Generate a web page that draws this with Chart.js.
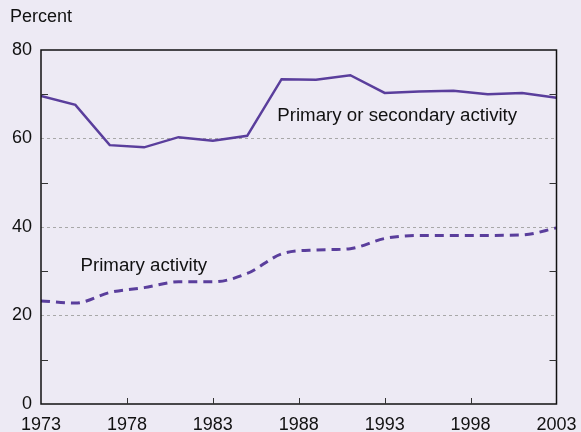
<!DOCTYPE html>
<html>
<head>
<meta charset="utf-8">
<script src="https://cdn.jsdelivr.net/npm/chart.js@4.4.1/dist/chart.umd.min.js"></script>
<style>
  html, body { margin: 0; padding: 0; background: #edeaf4; }
  #wrap { width: 581px; height: 432px; }
</style>
</head>
<body>
<div id="wrap"><canvas id="chart" width="581" height="432"></canvas></div>
<script>
// data
let years = [1973, 1975, 1977, 1979, 1981, 1983, 1985, 1987, 1989, 1991, 1993, 1995, 1997, 1999, 2001, 2003];
let primaryOrSecondary = [69.6, 67.6, 58.5, 58.0, 60.3, 59.5, 60.6, 73.4, 73.3, 74.3, 70.3, 70.6, 70.8, 70.0, 70.3, 69.2];
let primaryOnly = [23.3, 22.8, 25.2, 26.3, 27.6, 27.6, 29.5, 33.9, 34.8, 35.1, 37.4, 38.1, 38.1, 38.1, 38.2, 39.8];

let yearTicks = [1973, 1978, 1983, 1988, 1993, 1998, 2003];
let percentLabels = [0, 20, 40, 60, 80];
let minorTicks = [10, 30, 50, 70];
let gridValues = [20, 40, 60];

let purple = "#5a3e9c";
let font = "Liberation Sans, Arial, Helvetica, sans-serif";

function toPoints(vals) {
  let pts = [];
  for (let i = 0; i < years.length; i++) {
    pts.push({ x: years[i], y: vals[i] });
  }
  return pts;
}

// frame, inward ticks and the text labels
let framePlugin = {
  id: "frame",
  afterDraw: function (chart) {
    let ctx = chart.ctx;
    let a = chart.chartArea;
    let xs = chart.scales.x;
    let ys = chart.scales.y;

    ctx.save();
    ctx.strokeStyle = "#111";
    ctx.lineWidth = 1.5;
    ctx.strokeRect(a.left, a.top, a.right - a.left, a.bottom - a.top);

    ctx.lineWidth = 1;
    ctx.strokeStyle = "#333";
    ctx.beginPath();
    for (let i = 1; i < yearTicks.length - 1; i++) {
      let px = Math.round(xs.getPixelForValue(yearTicks[i])) + 0.5;
      ctx.moveTo(px, a.bottom);
      ctx.lineTo(px, a.bottom - 6);
    }
    for (let i = 0; i < minorTicks.length; i++) {
      let py = Math.round(ys.getPixelForValue(minorTicks[i])) + 0.5;
      ctx.moveTo(a.left, py);
      ctx.lineTo(a.left + 7, py);
      ctx.moveTo(a.right, py);
      ctx.lineTo(a.right - 7, py);
    }
    ctx.stroke();

    ctx.fillStyle = "#111";
    ctx.font = "18px " + font;
    ctx.textBaseline = "middle";
    ctx.textAlign = "left";
    ctx.fillText("Percent", 10, 17);

    ctx.font = "18.7px " + font;
    ctx.fillText("Primary or secondary activity", xs.getPixelForValue(1986.75), ys.getPixelForValue(65.2));
    ctx.fillText("Primary activity", xs.getPixelForValue(1975.3), ys.getPixelForValue(31.2));
    ctx.restore();
  }
};

new Chart(document.getElementById("chart"), {
  type: "line",
  data: {
    datasets: [
      {
        label: "Primary or secondary activity",
        data: toPoints(primaryOrSecondary),
        borderColor: purple,
        borderWidth: 2.5,
        pointRadius: 0,
        tension: 0
      },
      {
        label: "Primary activity",
        data: toPoints(primaryOnly),
        borderColor: purple,
        borderWidth: 3,
        borderDash: [9, 6],
        pointRadius: 0,
        cubicInterpolationMode: "monotone"
      }
    ]
  },
  options: {
    responsive: false,
    animation: false,
    layout: { padding: { top: 50, right: 24.5, left: 0, bottom: 0 } },
    plugins: {
      legend: { display: false },
      tooltip: { enabled: false }
    },
    scales: {
      x: {
        type: "linear",
        min: 1973,
        max: 2003,
        afterBuildTicks: function (s) {
          s.ticks = yearTicks.map(function (v) { return { value: v }; });
        },
        afterFit: function (s) {
          s.height = 28;
          s.paddingLeft = 0;
          s.paddingRight = 0;
        },
        grid: { display: false, drawTicks: false },
        border: { display: false },
        ticks: {
          padding: 10,
          maxRotation: 0,
          autoSkip: false,
          color: "#111",
          font: { family: font, size: 18 },
          callback: function (v) { return String(v); }
        }
      },
      y: {
        min: 0,
        max: 80,
        afterBuildTicks: function (s) {
          s.ticks = percentLabels.map(function (v) { return { value: v }; });
        },
        afterFit: function (s) { s.width = 41; },
        grid: {
          drawTicks: false,
          lineWidth: 1,
          color: function (c) {
            return c.tick && gridValues.indexOf(c.tick.value) >= 0 ? "#a8a8a8" : "rgba(0,0,0,0)";
          }
        },
        border: { display: false, dash: [3, 3] },
        ticks: {
          padding: 9,
          color: "#111",
          font: { family: font, size: 18 },
          callback: function (v) { return String(v); }
        }
      }
    }
  },
  plugins: [framePlugin]
});
</script>
</body>
</html>
